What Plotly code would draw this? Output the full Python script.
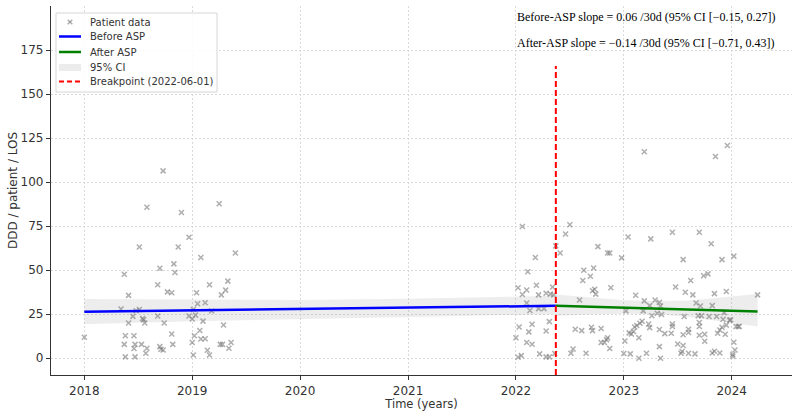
import plotly.graph_objects as go

# ---------------- data ----------------
before_x = [2018.00, 2018.37, 2018.34, 2018.41, 2018.41, 2018.38, 2018.37, 2018.38, 2018.45, 2018.46,
            2018.47, 2018.46, 2018.47, 2018.48, 2018.51, 2018.51, 2018.53, 2018.54, 2018.55, 2018.56,
            2018.58, 2018.57, 2018.58, 2018.68, 2018.68, 2018.70, 2018.70, 2018.71, 2018.73, 2018.73,
            2018.74, 2018.77, 2018.81, 2018.81, 2018.82, 2018.83, 2018.84, 2018.87, 2018.90, 2018.97,
            2018.97, 2019.00, 2019.01, 2019.03, 2019.00, 2019.01, 2019.02, 2019.04, 2019.05, 2019.07,
            2019.08, 2019.08, 2019.10, 2019.12, 2019.12, 2019.14, 2019.16, 2019.16, 2019.18, 2019.25,
            2019.26, 2019.27, 2019.28, 2019.29, 2019.31, 2019.33, 2019.34, 2019.36, 2019.40]
before_y = [11.9, 47.7, 28.0, 35.7, 20.0, 12.8, 7.9, 0.8, 23.8, 12.8,
            7.9, 5.5, 0.8, 27.0, 27.7, 63.2, 7.9, 22.5, 21.9, 20.0,
            5.7, 2.8, 85.7, 41.7, 24.0, 51.1, 6.6, 5.1, 4.7, 106.4,
            20.0, 37.7, 37.2, 13.8, 7.9, 53.6, 48.7, 63.2, 82.8, 68.7,
            24.0, 22.3, 27.7, 24.5, 8.9, 1.9, 12.8, 37.2, 30.9, 15.8,
            57.2, 10.9, 21.1, 11.1, 31.5, 4.5, 1.9, 41.7, 26.8, 87.7,
            7.9, 36.0, 7.9, 18.9, 38.7, 43.8, 5.7, 8.9, 59.8]

after_x = [2022.06, 2022.02, 2022.06, 2022.10, 2022.11, 2022.18, 2022.19, 2022.21, 2022.28, 2022.32,
           2022.34, 2022.35, 2022.10, 2022.13, 2022.21, 2022.26, 2022.03, 2022.15, 2022.12, 2022.31,
           2022.00, 2022.10, 2022.15, 2022.28, 2022.22, 2022.02, 2022.05, 2022.28, 2022.31, 2022.36,
           2022.37, 2022.41, 2022.46, 2022.50, 2022.76, 2022.85, 2022.87, 2022.98, 2023.04, 2023.25,
           2023.45, 2023.70, 2023.81, 2023.55, 2023.91, 2024.02, 2022.63, 2022.72, 2022.62, 2022.69,
           2022.71, 2022.73, 2022.74, 2022.88, 2022.59, 2023.11, 2023.02, 2023.19, 2023.18, 2023.24,
           2023.29, 2023.33, 2023.34, 2023.31, 2023.35, 2023.26, 2023.48, 2023.57, 2023.62, 2023.64,
           2023.74, 2023.78, 2023.67, 2023.71, 2023.72, 2023.69, 2023.82, 2023.84, 2023.95, 2023.56,
           2023.79, 2023.86, 2023.93, 2023.98, 2024.24, 2024.06, 2024.04, 2022.55, 2022.61, 2022.70,
           2022.71, 2022.79, 2022.85, 2022.84, 2022.79, 2022.82, 2022.87, 2023.01, 2023.00, 2023.06,
           2022.53, 2022.51, 2022.65, 2023.05, 2023.07, 2023.09, 2023.10, 2023.12, 2023.15, 2023.17,
           2023.14, 2023.23, 2023.24, 2023.21, 2023.14, 2023.33, 2023.33, 2023.34, 2023.38, 2023.44,
           2023.45, 2023.45, 2023.50, 2023.55, 2023.55, 2023.53, 2023.54, 2023.60, 2023.60, 2023.60,
           2023.66, 2023.70, 2023.70, 2023.70, 2023.75, 2023.75, 2023.82, 2023.84, 2023.89, 2023.87,
           2023.89, 2023.91, 2023.94, 2023.95, 2023.92, 2023.99, 2024.02, 2024.03, 2024.01, 2024.01,
           2024.07, 2023.19, 2023.85, 2023.96]
after_y = [74.8, 40.0, 36.2, 38.8, 49.1, 57.2, 41.5, 36.0, 36.9, 36.4,
           40.5, 36.0, 31.4, 27.1, 28.2, 28.2, 17.8, 19.3, 15.0, 20.8,
           11.6, 8.9, 8.0, 15.5, 2.5, 0.6, 1.5, 0.8, 0.8, 2.7,
           63.8, 59.8, 70.5, 75.8, 63.4, 59.8, 59.8, 57.0, 68.9, 67.8,
           71.6, 71.6, 65.0, 56.0, 56.0, 58.0, 50.0, 51.3, 44.1, 46.6,
           38.3, 39.2, 36.4, 40.0, 33.1, 35.8, 26.9, 32.6, 26.9, 29.9,
           33.1, 31.8, 29.7, 25.6, 24.8, 24.1, 40.5, 37.5, 44.1, 36.0,
           46.8, 47.9, 31.4, 29.7, 24.1, 24.1, 29.9, 36.7, 37.9, 23.7,
           23.7, 23.7, 25.9, 21.6, 36.0, 18.0, 18.0, 16.5, 15.7, 17.6,
           15.7, 16.9, 11.7, 10.6, 8.9, 8.9, 5.5, 9.8, 2.7, 2.5,
           5.3, 2.8, 2.8, 14.4, 13.8, 15.2, 17.8, 18.6, 19.9, 21.0,
           11.6, 19.5, 17.4, 2.8, 0.0, 16.3, 6.6, 0.0, 14.0, 14.2,
           19.5, 18.0, 8.1, 13.3, 7.2, 2.8, 3.8, 16.5, 14.6, 2.8,
           2.5, 13.1, 18.0, 20.3, 13.6, 9.7, 3.0, 4.0, 3.0, 14.2,
           16.1, 17.6, 13.6, 18.8, 22.2, 21.8, 9.1, 4.7, 2.1, 1.1,
           18.0, 117.2, 114.5, 120.8]

fit_before_x = [2018.00, 2022.37]
fit_before_y = [26.4, 29.8]
fit_after_x = [2022.37, 2024.24]
fit_after_y = [29.8, 26.5]

ci_before_x = [2018.00, 2019.00, 2020.00, 2021.00, 2022.00, 2022.37]
ci_before_lo = [19.3, 21.0, 22.2, 23.5, 24.6, 25.0]
ci_before_hi = [33.7, 33.2, 33.1, 33.8, 35.0, 35.5]
ci_after_x = [2022.37, 2022.70, 2023.00, 2023.30, 2023.60, 2023.90, 2024.24]
ci_after_lo = [24.0, 24.8, 25.3, 25.0, 23.5, 21.0, 18.0]
ci_after_hi = [36.2, 34.3, 33.0, 32.5, 32.8, 34.5, 36.5]

breakpoint_x = 2022.37
breakpoint_top = 166
x_ticks = [2018, 2019, 2020, 2021, 2022, 2023, 2024]
y_ticks = [0, 25, 50, 75, 100, 125, 150, 175]
legend_labels = ["Patient data", "Before ASP", "After ASP", "95% CI", "Breakpoint (2022-06-01)"]
annot_lines = ["Before-ASP slope = 0.06 /30d (95% CI [\u22120.15, 0.27])",
               "After-ASP slope = \u22120.14 /30d (95% CI [\u22120.71, 0.43])"]

# ---------------- layout geometry ----------------
W, H = 799, 411
L, R, T, B = 51, 7, 6, 36
PW, PH = W - L - R, H - T - B


def px(X):
    return (X - L) / PW


def py(Y):
    return (H - B - Y) / PH


fig = go.Figure()

# CI bands
for xs, lo, hi in [(ci_before_x, ci_before_lo, ci_before_hi), (ci_after_x, ci_after_lo, ci_after_hi)]:
    fig.add_trace(go.Scatter(x=xs + xs[::-1], y=hi + lo[::-1], fill="toself", mode="lines",
                             line=dict(width=0), fillcolor="rgba(150,150,150,0.17)",
                             hoverinfo="skip", showlegend=False))

# scatter
fig.add_trace(go.Scatter(x=before_x + after_x, y=before_y + after_y, mode="markers",
                         marker=dict(symbol="x-thin", size=5,
                                     line=dict(width=1.5, color="rgba(120,120,120,0.6)")),
                         showlegend=False))

# fits
fig.add_trace(go.Scatter(x=fit_before_x, y=fit_before_y, mode="lines",
                         line=dict(color="#0000ff", width=2.5), showlegend=False))
fig.add_trace(go.Scatter(x=fit_after_x, y=fit_after_y, mode="lines",
                         line=dict(color="#008000", width=2.5), showlegend=False))

shapes = []
# breakpoint
shapes.append(dict(type="line", xref="x", yref="y", x0=breakpoint_x, x1=breakpoint_x,
                   y0=-9.5, y1=breakpoint_top, line=dict(color="red", width=2, dash="6px,3px"),
                   layer="above"))

# manual legend
shapes.append(dict(type="rect", xref="paper", yref="paper", x0=px(56), x1=px(217), y0=py(92), y1=py(13),
                   fillcolor="rgba(255,255,255,0.85)", line=dict(color="#d6d6d6", width=1), layer="above"))
rows_y = [22, 36.5, 52, 67.5, 81.5]
# x marker
cx, cy = 70, rows_y[0]
for dx in (-2.3, 2.3):
    shapes.append(dict(type="line", xref="paper", yref="paper", x0=px(cx - 2.3), x1=px(cx + 2.3),
                       y0=py(cy - dx), y1=py(cy + dx), line=dict(color="rgba(120,120,120,0.6)", width=1.5),
                       layer="above"))
shapes.append(dict(type="line", xref="paper", yref="paper", x0=px(59), x1=px(81), y0=py(rows_y[1]),
                   y1=py(rows_y[1]), line=dict(color="#0000ff", width=2.5), layer="above"))
shapes.append(dict(type="line", xref="paper", yref="paper", x0=px(59), x1=px(81), y0=py(rows_y[2]),
                   y1=py(rows_y[2]), line=dict(color="#008000", width=2.5), layer="above"))
shapes.append(dict(type="rect", xref="paper", yref="paper", x0=px(59), x1=px(81), y0=py(rows_y[3] + 3.5),
                   y1=py(rows_y[3] - 3.5), fillcolor="#ececec", line=dict(width=0), layer="above"))
shapes.append(dict(type="line", xref="paper", yref="paper", x0=px(59), x1=px(81), y0=py(rows_y[4]),
                   y1=py(rows_y[4]), line=dict(color="red", width=2, dash="5px,3px"), layer="above"))

annotations = []
for lab, yy in zip(legend_labels, rows_y):
    annotations.append(dict(text=lab, xref="paper", yref="paper", x=px(88), y=py(yy),
                            xanchor="left", yanchor="middle", showarrow=False,
                            font=dict(family="DejaVu Sans", size=10, color="#333333")))
for lab, yy in zip(annot_lines, [17, 43]):
    annotations.append(dict(text=lab, xref="paper", yref="paper", x=px(515), y=py(yy),
                            xanchor="left", yanchor="middle", showarrow=False,
                            font=dict(family="Liberation Serif", size=12, color="#000000")))

fig.update_layout(
    width=W, height=H,
    margin=dict(l=L, r=R, t=T, b=B, autoexpand=False),
    paper_bgcolor="white", plot_bgcolor="white",
    font=dict(family="DejaVu Sans", size=12, color="#333333"),
    shapes=shapes, annotations=annotations, showlegend=False,
    xaxis=dict(range=[2017.691, 2024.559], tickvals=x_ticks, ticktext=[str(t) for t in x_ticks],
               showline=True, linecolor="#333333", linewidth=1.2, ticks="outside", ticklen=4,
               tickcolor="#333333", showgrid=True, gridcolor="#d9d9d9", gridwidth=0.8, griddash="2px,2px",
               zeroline=False, tickfont=dict(size=12),
               title=dict(text="Time (years)", font=dict(size=11.5), standoff=0), automargin=False),
    yaxis=dict(range=[-9.5, 200], tickvals=y_ticks, showline=True, linecolor="#333333", linewidth=1.2,
               ticks="outside", ticklen=4, tickcolor="#333333", showgrid=True, gridcolor="#d9d9d9",
               gridwidth=0.8, griddash="2px,2px", zeroline=False, tickfont=dict(size=12),
               title=dict(text="DDD / patient / LOS", font=dict(size=12), standoff=0), automargin=False),
)

fig.write_html("out.html")
